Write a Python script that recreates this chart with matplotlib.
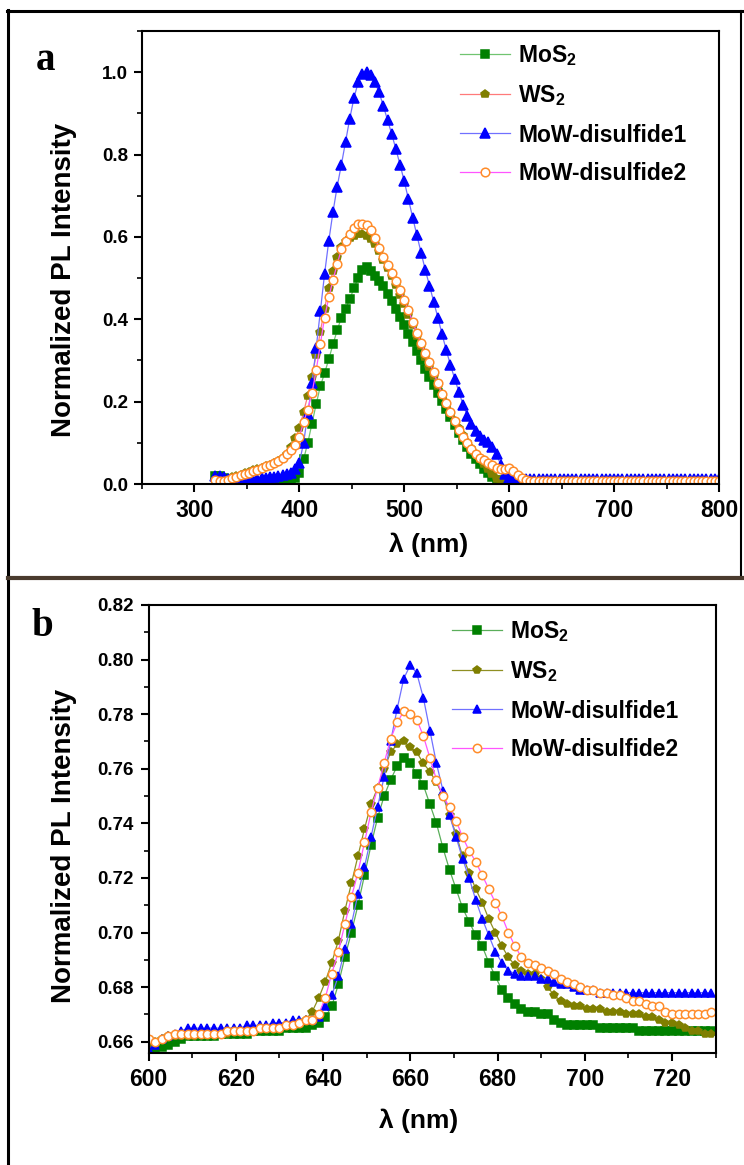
import numpy as np
import matplotlib.pyplot as plt
from matplotlib.lines import Line2D
from matplotlib.ticker import MultipleLocator

plt.rcParams['font.family'] = ['Liberation Sans', 'DejaVu Sans']
plt.rcParams['font.weight'] = 'bold'
plt.rcParams['mathtext.fontset'] = 'custom'
plt.rcParams['mathtext.rm'] = 'Liberation Sans:bold'
plt.rcParams['mathtext.it'] = 'Liberation Sans:bold'
plt.rcParams['mathtext.bf'] = 'Liberation Sans:bold'
plt.rcParams['mathtext.default'] = 'rm'

LABELS = ['MoS$_2$', 'WS$_2$', 'MoW-disulfide1', 'MoW-disulfide2']

# --- panel a: 320-800 nm, 4 nm steps (MoS2 / WS2 stop at 600 nm) ---
WL_A = np.arange(320, 804, 4)
MOS2_A = [0.020, 0.019, 0.014, 0.007, 0.002, 0.000, 0.001, 0.002, 0.002, 0.003,
          0.004, 0.005, 0.006, 0.006, 0.007, 0.008, 0.009, 0.010, 0.011, 0.014,
          0.027, 0.060, 0.100, 0.147, 0.194, 0.238, 0.269, 0.303, 0.339, 0.373,
          0.404, 0.425, 0.449, 0.475, 0.500, 0.520, 0.526, 0.518, 0.506, 0.494,
          0.480, 0.462, 0.444, 0.424, 0.405, 0.386, 0.365, 0.344, 0.323, 0.302,
          0.280, 0.259, 0.240, 0.220, 0.201, 0.183, 0.164, 0.144, 0.124, 0.106,
          0.089, 0.074, 0.061, 0.049, 0.037, 0.027, 0.017, 0.009, 0.004, 0.001,
          0.000]
WS2_A = [0.010, 0.010, 0.009, 0.011, 0.016, 0.020, 0.023, 0.026, 0.030, 0.033,
         0.036, 0.039, 0.043, 0.047, 0.051, 0.057, 0.064, 0.074, 0.090, 0.111,
         0.135, 0.175, 0.215, 0.261, 0.314, 0.370, 0.426, 0.476, 0.518, 0.551,
         0.575, 0.589, 0.597, 0.602, 0.606, 0.606, 0.603, 0.596, 0.583, 0.565,
         0.545, 0.525, 0.504, 0.483, 0.460, 0.436, 0.410, 0.385, 0.359, 0.334,
         0.309, 0.285, 0.262, 0.239, 0.216, 0.194, 0.173, 0.154, 0.135, 0.118,
         0.102, 0.087, 0.074, 0.061, 0.048, 0.036, 0.024, 0.013, 0.005, 0.001,
         0.000]
MOW1_A = [0.020, 0.019, 0.017, 0.012, 0.007, 0.004, 0.005, 0.007, 0.009, 0.010,
          0.012, 0.014, 0.015, 0.017, 0.018, 0.020, 0.022, 0.024, 0.028, 0.036,
          0.052, 0.100, 0.170, 0.245, 0.330, 0.420, 0.510, 0.590, 0.660, 0.722,
          0.775, 0.831, 0.887, 0.937, 0.975, 0.995, 1.000, 0.992, 0.975, 0.951,
          0.918, 0.884, 0.850, 0.813, 0.775, 0.735, 0.691, 0.647, 0.604, 0.562,
          0.520, 0.482, 0.443, 0.404, 0.364, 0.325, 0.289, 0.256, 0.224, 0.193,
          0.166, 0.145, 0.129, 0.117, 0.108, 0.102, 0.091, 0.072, 0.046, 0.024,
          0.015, 0.013, 0.013, 0.013, 0.013, 0.013, 0.013, 0.013, 0.013, 0.013,
          0.013, 0.013, 0.013, 0.013, 0.013, 0.013, 0.013, 0.013, 0.013, 0.013,
          0.013, 0.013, 0.013, 0.013, 0.013, 0.013, 0.013, 0.013, 0.013, 0.013,
          0.013, 0.013, 0.013, 0.013, 0.013, 0.013, 0.013, 0.013, 0.013, 0.013,
          0.013, 0.013, 0.013, 0.013, 0.013, 0.013, 0.013, 0.013, 0.013, 0.013,
          0.013]
MOW2_A = [0.009, 0.008, 0.007, 0.010, 0.015, 0.018, 0.021, 0.024, 0.028, 0.031,
          0.034, 0.039, 0.043, 0.047, 0.051, 0.056, 0.063, 0.073, 0.083, 0.096,
          0.115, 0.150, 0.181, 0.221, 0.276, 0.340, 0.404, 0.453, 0.495, 0.534,
          0.570, 0.590, 0.607, 0.621, 0.631, 0.632, 0.628, 0.617, 0.598, 0.574,
          0.552, 0.532, 0.512, 0.492, 0.470, 0.448, 0.422, 0.394, 0.367, 0.342,
          0.318, 0.296, 0.271, 0.245, 0.219, 0.196, 0.174, 0.152, 0.132, 0.114,
          0.099, 0.085, 0.073, 0.064, 0.058, 0.052, 0.046, 0.040, 0.036, 0.036,
          0.040, 0.032, 0.022, 0.014, 0.010, 0.008, 0.008, 0.008, 0.008, 0.008,
          0.008, 0.008, 0.008, 0.008, 0.008, 0.008, 0.008, 0.008, 0.008, 0.008,
          0.007, 0.007, 0.007, 0.007, 0.007, 0.007, 0.007, 0.007, 0.007, 0.007,
          0.007, 0.007, 0.007, 0.007, 0.007, 0.007, 0.007, 0.007, 0.007, 0.007,
          0.007, 0.007, 0.007, 0.007, 0.007, 0.007, 0.007, 0.007, 0.007, 0.007,
          0.007]

# --- panel b: 600-729 nm, 1.5 nm steps ---
WL_B = np.arange(600, 730, 1.5)
MOS2_B = [0.656, 0.657, 0.658, 0.659, 0.660, 0.661, 0.662, 0.662, 0.662, 0.662,
          0.662, 0.663, 0.663, 0.663, 0.663, 0.663, 0.664, 0.664, 0.664, 0.664,
          0.664, 0.665, 0.665, 0.665, 0.665, 0.666, 0.667, 0.669, 0.673, 0.681,
          0.691, 0.700, 0.710, 0.721, 0.732, 0.742, 0.750, 0.756, 0.761, 0.764,
          0.762, 0.758, 0.754, 0.747, 0.740, 0.731, 0.723, 0.716, 0.709, 0.704,
          0.699, 0.695, 0.689, 0.684, 0.679, 0.676, 0.674, 0.672, 0.671, 0.671,
          0.670, 0.670, 0.668, 0.667, 0.666, 0.666, 0.666, 0.666, 0.666, 0.665,
          0.665, 0.665, 0.665, 0.665, 0.665, 0.664, 0.664, 0.664, 0.664, 0.664,
          0.664, 0.664, 0.664, 0.664, 0.664, 0.664, 0.664]
WS2_B = [0.658, 0.660, 0.661, 0.662, 0.662, 0.662, 0.662, 0.662, 0.663, 0.663,
         0.663, 0.663, 0.663, 0.664, 0.664, 0.664, 0.664, 0.665, 0.665, 0.665,
         0.665, 0.666, 0.666, 0.667, 0.668, 0.671, 0.676, 0.682, 0.689, 0.697,
         0.708, 0.718, 0.728, 0.738, 0.747, 0.753, 0.760, 0.766, 0.769, 0.770,
         0.768, 0.766, 0.762, 0.759, 0.755, 0.750, 0.743, 0.736, 0.728, 0.722,
         0.716, 0.711, 0.705, 0.700, 0.695, 0.691, 0.688, 0.686, 0.685, 0.685,
         0.683, 0.680, 0.677, 0.675, 0.674, 0.673, 0.673, 0.672, 0.672, 0.672,
         0.671, 0.671, 0.671, 0.670, 0.670, 0.670, 0.669, 0.669, 0.668, 0.667,
         0.667, 0.666, 0.665, 0.664, 0.664, 0.663, 0.663]
MOW1_B = [0.657, 0.659, 0.661, 0.662, 0.663, 0.664, 0.665, 0.665, 0.665, 0.665,
          0.665, 0.665, 0.665, 0.665, 0.665, 0.666, 0.666, 0.666, 0.666, 0.667,
          0.667, 0.667, 0.668, 0.668, 0.668, 0.668, 0.669, 0.673, 0.677, 0.684,
          0.694, 0.703, 0.714, 0.724, 0.735, 0.746, 0.757, 0.770, 0.782, 0.793,
          0.798, 0.795, 0.786, 0.774, 0.762, 0.752, 0.743, 0.735, 0.727, 0.720,
          0.712, 0.705, 0.699, 0.693, 0.689, 0.686, 0.685, 0.684, 0.684, 0.684,
          0.683, 0.683, 0.682, 0.681, 0.681, 0.680, 0.679, 0.679, 0.679, 0.678,
          0.678, 0.678, 0.678, 0.678, 0.678, 0.678, 0.678, 0.678, 0.678, 0.678,
          0.678, 0.678, 0.678, 0.678, 0.678, 0.678, 0.678]
MOW2_B = [0.661, 0.660, 0.661, 0.662, 0.663, 0.663, 0.663, 0.663, 0.663, 0.663,
          0.663, 0.663, 0.664, 0.664, 0.664, 0.664, 0.664, 0.665, 0.665, 0.665,
          0.665, 0.666, 0.666, 0.667, 0.668, 0.668, 0.670, 0.676, 0.685, 0.693,
          0.703, 0.713, 0.722, 0.733, 0.744, 0.753, 0.762, 0.771, 0.777, 0.781,
          0.780, 0.778, 0.772, 0.764, 0.756, 0.750, 0.746, 0.741, 0.735, 0.730,
          0.726, 0.721, 0.716, 0.711, 0.706, 0.700, 0.695, 0.691, 0.689, 0.688,
          0.687, 0.686, 0.685, 0.683, 0.682, 0.681, 0.680, 0.679, 0.679, 0.678,
          0.678, 0.677, 0.677, 0.676, 0.675, 0.675, 0.674, 0.673, 0.673, 0.671,
          0.670, 0.670, 0.670, 0.670, 0.670, 0.670, 0.671]

MARKERS = [('s', '#008000', '#008000'),
           ('p', '#7f7f00', '#7f7f00'),
           ('^', '#0000ff', '#0000ff'),
           ('o', 'white', '#ff8c2a')]
LINES_A = ['#70c470', '#ff7a7a', '#7070ff', '#ff55ff']
LINES_B = ['#5aae5a', '#8f8f22', '#7070ff', '#ff55ff']


def draw_panel(ax, wl, series, line_colors, sizes):
    for y, label, lc, (mk, fc, ec), ms in zip(series, LABELS, line_colors, MARKERS, sizes):
        ax.plot(wl[:len(y)], y, color=lc, lw=0.9, marker=mk, ms=ms,
                mfc=fc, mec=ec, mew=1.1, label=label)
    for side in ['left', 'right', 'top', 'bottom']:
        ax.spines[side].set_linewidth(1.5)
    ax.tick_params(which='major', direction='out', length=6, width=1.5,
                   top=False, right=False)
    ax.tick_params(which='minor', direction='out', length=3.5, width=1.2,
                   top=False, right=False)
    ax.set_ylabel('Normalized PL Intensity', fontsize=20, fontweight='bold')
    ax.set_xlabel('λ (nm)', fontsize=19, fontweight='bold')


def add_legend(ax, x_px, y_px):
    ax.legend(loc='upper left', bbox_to_anchor=(x_px / 744, 1 - y_px / 1165),
              bbox_transform=fig.transFigure, frameon=False, fontsize=16.5,
              numpoints=1, handlelength=2.2, handletextpad=0.35,
              borderpad=0, borderaxespad=0, labelspacing=0.67)


fig = plt.figure(figsize=(7.44, 11.65), dpi=100)

# panel a
ax_a = fig.add_axes([0.1909, 0.5845, 0.7755, 0.3889])
draw_panel(ax_a, WL_A, [MOS2_A, WS2_A, MOW1_A, MOW2_A], LINES_A, [5.4, 6.2, 6.6, 6.2])
ax_a.set_xlim(250, 800)
ax_a.set_ylim(0, 1.1)
ax_a.xaxis.set_major_locator(MultipleLocator(100))
ax_a.xaxis.set_minor_locator(MultipleLocator(50))
ax_a.yaxis.set_major_locator(MultipleLocator(0.2))
ax_a.yaxis.set_minor_locator(MultipleLocator(0.1))
ax_a.tick_params(axis='x', which='major', labelsize=16.5, pad=5)
ax_a.tick_params(axis='y', which='major', labelsize=13.5, pad=4)
ax_a.yaxis.set_label_coords(-0.112, 0.45)
ax_a.xaxis.set_label_coords(0.496, -0.108)
add_legend(ax_a, 460, 43)

# panel b
ax_b = fig.add_axes([0.1997, 0.0964, 0.7621, 0.3843])
draw_panel(ax_b, WL_B, [MOS2_B, WS2_B, MOW1_B, MOW2_B], LINES_B, [5.4, 6.0, 6.4, 6.0])
ax_b.set_xlim(600, 730)
ax_b.set_ylim(0.656, 0.82)
ax_b.xaxis.set_major_locator(MultipleLocator(20))
ax_b.xaxis.set_minor_locator(MultipleLocator(10))
ax_b.yaxis.set_major_locator(MultipleLocator(0.02))
ax_b.yaxis.set_minor_locator(MultipleLocator(0.01))
ax_b.yaxis.set_major_formatter(plt.FormatStrFormatter('%.2f'))
ax_b.tick_params(axis='x', which='major', labelsize=16.5, pad=5)
ax_b.tick_params(axis='y', which='major', labelsize=13.5, pad=5)
ax_b.yaxis.set_label_coords(-0.126, 0.462)
ax_b.xaxis.set_label_coords(0.477, -0.124)
add_legend(ax_b, 452, 619)

# panel letters
fig.text(36 / 744, 1 - 70 / 1165, 'a', family='Liberation Serif',
         fontweight='bold', fontsize=28)
fig.text(31 / 744, 1 - 636 / 1165, 'b', family='Liberation Serif',
         fontweight='bold', fontsize=28)

# outer frame and separator
fig.add_artist(Line2D([8 / 744, 8 / 744], [0, 1 - 10 / 1165],
                      transform=fig.transFigure, color='black', lw=2.2))
fig.add_artist(Line2D([7 / 744, 1], [1 - 11 / 1165, 1 - 11 / 1165],
                      transform=fig.transFigure, color='black', lw=2.2))
fig.add_artist(Line2D([741 / 744, 741 / 744], [1 - 11 / 1165, 1 - 577 / 1165],
                      transform=fig.transFigure, color='black', lw=1.5))
fig.add_artist(Line2D([8 / 744, 1], [1 - 577.5 / 1165, 1 - 577.5 / 1165],
                      transform=fig.transFigure, color='#4a3b2e', lw=3))

fig.savefig('out.png', dpi=100)
